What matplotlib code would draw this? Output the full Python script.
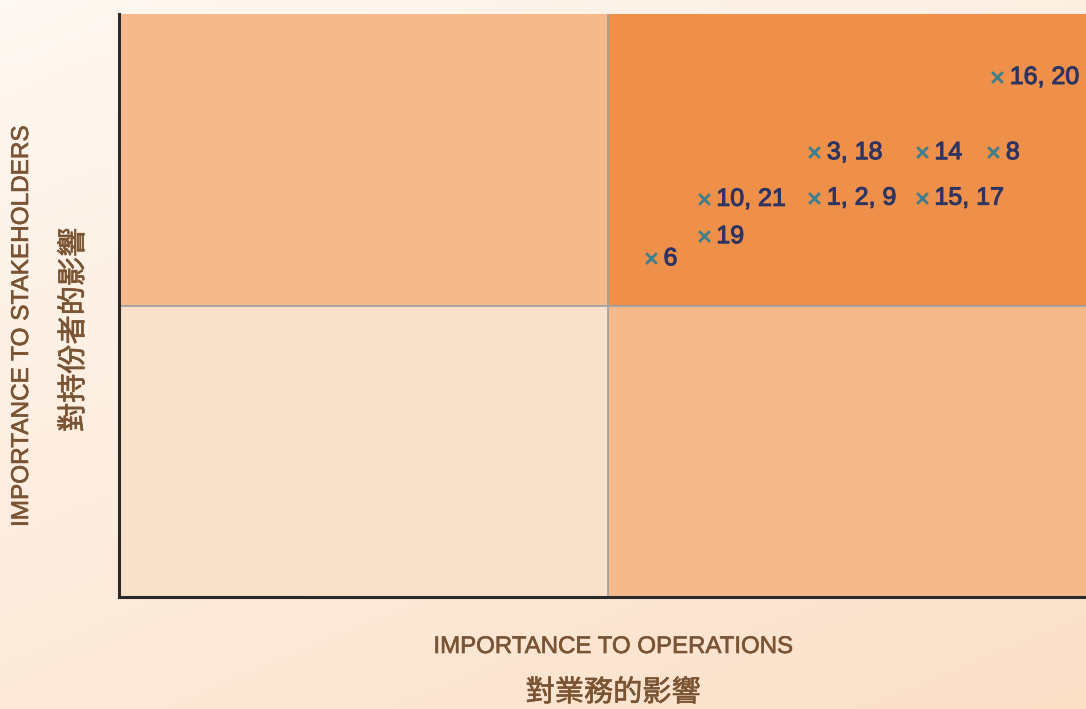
import numpy as np
import matplotlib
matplotlib.use("Agg")
import matplotlib.pyplot as plt
import matplotlib.patheffects as pe
from matplotlib.patches import Rectangle
from matplotlib.colors import to_rgb

# ---- data ----
labels = ["6", "19", "10, 21", "1, 2, 9", "15, 17", "3, 18", "14", "8", "16, 20"]
ops_importance = [5.44, 5.98, 5.98, 7.11, 8.21, 7.11, 8.21, 8.94, 8.98]
stake_importance = [5.81, 6.19, 6.83, 6.85, 6.85, 7.63, 7.63, 7.63, 8.92]

x_title_en = "IMPORTANCE TO OPERATIONS"
x_title_zh = "對業務的影響"
y_title_en = "IMPORTANCE TO STAKEHOLDERS"
y_title_zh = "對持份者的影響"

# ---- figure ----
W, H = 1086, 709
fig = plt.figure(figsize=(W / 100, H / 100), dpi=100)

# background gradient
bg = fig.add_axes([0, 0, 1, 1], zorder=-10)
yy, xx = np.mgrid[0:1:200j, 0:1:300j]
c_light = np.array(to_rgb("#FFFBF7"))
c_dark = np.array(to_rgb("#FBE0C8"))
t = np.clip(0.55 * yy + 0.35 * xx + 0.1, 0, 1)[..., None]
img = c_light * (1 - t) + c_dark * t
bg.imshow(img, aspect="auto", extent=[0, 1, 0, 1], origin="upper")
bg.set_axis_off()

left_px, right_px, top_px, bottom_px = 119, 1097, 14, 597
ax = fig.add_axes([left_px / W, 1 - bottom_px / H,
                   (right_px - left_px) / W, (bottom_px - top_px) / H])
ax.set_xlim(0, 10)
ax.set_ylim(0, 10)

quad_colors = {"tl": "#F5B98B", "tr": "#EE8F4A", "bl": "#F9E0C9", "br": "#F5B98B"}
ax.add_patch(Rectangle((0, 5), 5, 5, color=quad_colors["tl"], lw=0, zorder=0))
ax.add_patch(Rectangle((5, 5), 5, 5, color=quad_colors["tr"], lw=0, zorder=0))
ax.add_patch(Rectangle((0, 0), 5, 5, color=quad_colors["bl"], lw=0, zorder=0))
ax.add_patch(Rectangle((5, 0), 5, 5, color=quad_colors["br"], lw=0, zorder=0))
ax.axvline(5, color="#9A9EA3", lw=1.2, zorder=1)
ax.axhline(5, color="#9A9EA3", lw=1.2, zorder=1)

navy = "#2E3462"
ax.scatter(ops_importance, stake_importance, marker="x", s=60,
           linewidths=2.0, color="#3E7F8E", zorder=3)
for xv, yv, lab in zip(ops_importance, stake_importance, labels):
    ax.annotate(lab, (xv, yv), xytext=(9, 0), textcoords="offset points",
                ha="left", va="center", fontsize=18, color=navy,
                family="Liberation Sans", zorder=4,
                path_effects=[pe.withStroke(linewidth=0.75, foreground=navy)])

for s in ["top", "right"]:
    ax.spines[s].set_visible(False)
for s in ["left", "bottom"]:
    ax.spines[s].set_color("#2A2A2A")
    ax.spines[s].set_linewidth(2.2)
ax.set_xticks([])
ax.set_yticks([])
ax.patch.set_alpha(0)

brown = "#7A5433"
stroke_b = [pe.withStroke(linewidth=0.45, foreground=brown)]
fig.text(613 / W, 1 - 647 / H, x_title_en, ha="center", va="center",
         fontsize=17.3, color=brown, family="Liberation Sans", path_effects=stroke_b)
fig.text(613 / W, 1 - 693 / H, x_title_zh, ha="center", va="center",
         fontsize=21, color=brown, family=["Noto Sans CJK TC", "DejaVu Sans"],
         path_effects=stroke_b)
fig.text(22 / W, 1 - 327 / H, y_title_en, ha="center", va="center",
         rotation=90, fontsize=17.5, color=brown, family="Liberation Sans",
         path_effects=stroke_b)
fig.text(74 / W, 1 - 330 / H, y_title_zh, ha="center", va="center",
         rotation=90, fontsize=21, color=brown, family=["Noto Sans CJK TC", "DejaVu Sans"],
         path_effects=stroke_b)

fig.savefig("out.png", dpi=100)
